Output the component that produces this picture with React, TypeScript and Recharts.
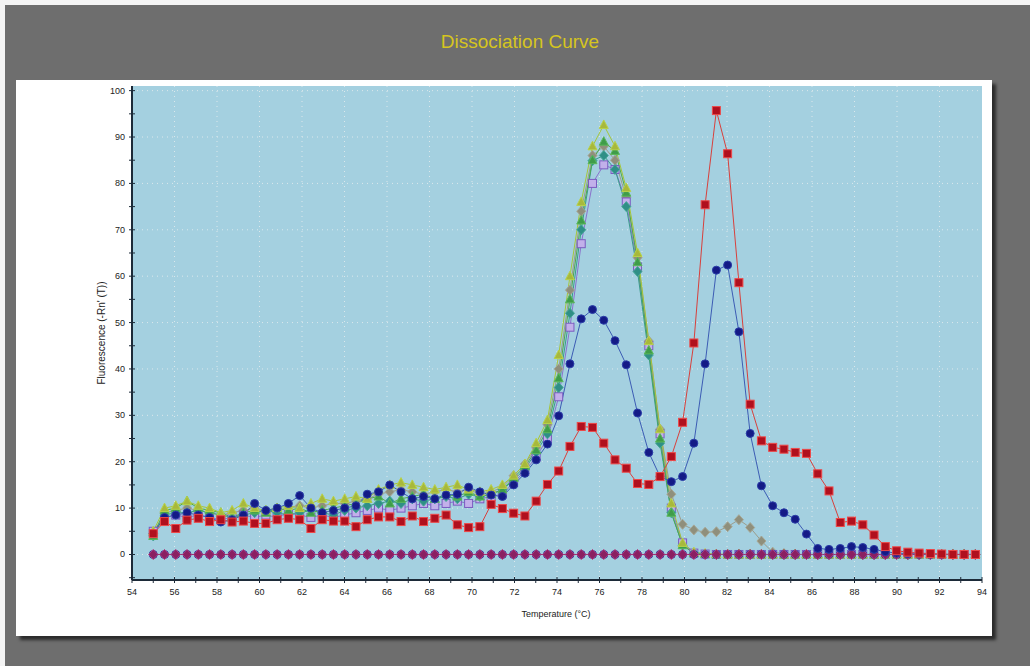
import { LineChart, Line, XAxis, YAxis, CartesianGrid } from "recharts"

// temperature of each reading (°C)
const temps = [
  55.0, 55.53, 56.06, 56.59, 57.12, 57.65, 58.18, 58.71, 59.24, 59.77,
  60.3, 60.83, 61.36, 61.89, 62.42, 62.95, 63.48, 64.01, 64.54, 65.07,
  65.6, 66.13, 66.66, 67.19, 67.72, 68.25, 68.78, 69.31, 69.84, 70.37,
  70.9, 71.43, 71.96, 72.49, 73.02, 73.55, 74.08, 74.61, 75.14, 75.67,
  76.2, 76.73, 77.26, 77.79, 78.32, 78.85, 79.38, 79.91, 80.44, 80.97,
  81.5, 82.03, 82.56, 83.09, 83.62, 84.15, 84.68, 85.21, 85.74, 86.27,
  86.8, 87.33, 87.86, 88.39, 88.92, 89.45, 89.98, 90.51, 91.04, 91.57,
  92.1, 92.63, 93.16, 93.69,
]

const redWell = [
  4.5, 7.1, 5.6, 7.4, 7.8, 7.1, 7.5, 7, 7.2, 6.7,
  6.7, 7.5, 7.8, 7.5, 5.6, 7.5, 7.2, 7.2, 6, 7.5,
  8.1, 8.1, 7.1, 8.3, 7.1, 7.8, 8.5, 6.4, 5.8, 6,
  10.8, 9.9, 8.9, 8.3, 11.5, 15.1, 18, 23.3, 27.6, 27.4,
  24, 20.4, 18.6, 15.3, 15.1, 16.8, 21.1, 28.5, 45.6, 75.4,
  95.7, 86.4, 58.6, 32.4, 24.5, 23.1, 22.7, 22, 21.8, 17.4,
  13.7, 6.9, 7.2, 6.4, 4.2, 1.7, 0.8, 0.5, 0.3, 0.2,
  0.1, 0, 0, 0,
]

const navyWell = [
  4.5, 8, 8.5, 9, 8.5, 8, 7, 7.5, 8.5, 11,
  9.5, 10, 11, 12.7, 10, 9, 9.5, 10, 10.5, 13,
  13.5, 15, 13.5, 12, 12.5, 12, 12.8, 13, 14.5, 13.5,
  12.8, 12.5, 15, 17.5, 20.4, 23.8, 29.9, 41.1, 50.8, 52.8,
  50.5, 46.1, 40.9, 30.5, 22, 16.8, 15.7, 16.8, 24, 41.1,
  61.3, 62.4, 48, 26.1, 14.8, 10.5, 9, 7.6, 4.4, 1.3,
  1.1, 1.3, 1.7, 1.5, 1.1, 0.6, 0.3, 0.2, 0.1, 0.1,
  0, 0, 0, 0,
]

const oliveWell = [
  5, 10, 10.5, 11.5, 10.5, 10, 9, 9.5, 11, 10,
  9.5, 10, 10.5, 10, 11, 12, 11.5, 12, 12.5, 12,
  14, 15, 15.5, 15, 14.5, 14, 14.5, 15, 14, 13.5,
  14, 15, 17, 19.5, 24, 29, 43, 60, 76, 88,
  92.6, 88, 79, 65, 46, 27, 11, 2.5, 0.5, 0.2,
  0.1, 0, 0, 0, 0, 0, 0, 0, 0, 0,
  0, 0, 0, 0, 0, 0, 0, 0, 0, 0,
  0, 0, 0, 0,
]

const greenWell = [
  4, 9.5, 10, 11.5, 10, 9.5, 9, 8, 9, 9.5,
  9, 10, 9.5, 10, 9, 9.5, 10, 10.5, 11, 12,
  12.5, 11, 12, 12.5, 13, 12, 13, 12.5, 13.5, 12.5,
  13, 14, 16.5, 19, 22.5, 27, 38, 55, 72, 85,
  89, 87, 78, 63, 44, 25, 9, 2, 0.3, 0.1,
  0, 0, 0, 0, 0, 0, 0, 0, 0, 0,
  0, 0, 0, 0, 0, 0, 0, 0, 0, 0,
  0, 0, 0, 0,
]

const tealWell = [
  4, 8.5, 9, 9, 9.5, 9, 8.5, 8, 8.5, 9,
  9.5, 9, 8.5, 9, 9.5, 9, 8.5, 9.5, 10, 10.5,
  11, 11.5, 11, 12, 11.5, 12, 12.5, 12, 13, 12.5,
  13, 14, 16, 18.5, 22, 26, 36, 52, 70, 84.9,
  86, 83, 75, 61, 43, 24, 9, 2, 0.3, 0.1,
  0, 0, 0, 0, 0, 0, 0, 0, 0, 0,
  0, 0, 0, 0, 0, 0, 0, 0, 0, 0,
  0, 0, 0, 0,
]

const purpleWell = [
  5, 8, 8.5, 8, 8.5, 8, 7.5, 8, 8.5, 8,
  8.5, 8, 9, 8.5, 8, 8.5, 8, 8.5, 9, 9.5,
  10, 9.5, 10, 10.5, 11, 10.5, 11, 11.5, 11, 12,
  12.5, 13, 15.5, 18, 21, 25, 34, 49, 67, 80,
  84, 83, 76, 62, 45, 26, 10, 2.5, 0.3, 0.1,
  0, 0, 0, 0, 0, 0, 0, 0, 0, 0,
  0, 0, 0, 0, 0, 0, 0, 0, 0, 0,
  0, 0, 0, 0,
]

const grayWell = [
  4.5, 9, 9.5, 10, 9.5, 9, 8.5, 9, 9.5, 10,
  9, 9.5, 10, 10.5, 10, 10.5, 11, 11, 11.5, 12,
  13, 13.5, 14, 13.5, 13, 13.5, 14, 13.5, 14, 13,
  13.5, 14.5, 17, 19.5, 23, 28, 40, 57, 74, 86,
  88, 85, 77, 64, 46, 27, 13, 6.5, 5.3, 4.8,
  4.9, 6, 7.5, 5.8, 2.9, 0.5, 0.2, 0, 0, 0,
  0, 0, 0, 0, 0, 0, 0, 0, 0, 0,
  0, 0, 0, 0,
]

// no-template controls, flat at zero
const ntcNavy = [
  0, 0, 0, 0, 0, 0, 0, 0, 0, 0,
  0, 0, 0, 0, 0, 0, 0, 0, 0, 0,
  0, 0, 0, 0, 0, 0, 0, 0, 0, 0,
  0, 0, 0, 0, 0, 0, 0, 0, 0, 0,
  0, 0, 0, 0, 0, 0, 0, 0, 0, 0,
  0, 0, 0, 0, 0, 0, 0, 0, 0, 0,
  0, 0, 0, 0, 0, 0, 0, 0, 0, 0,
  0, 0, 0, 0,
]

const ntcMagenta = [
  0, 0, 0, 0, 0, 0, 0, 0, 0, 0,
  0, 0, 0, 0, 0, 0, 0, 0, 0, 0,
  0, 0, 0, 0, 0, 0, 0, 0, 0, 0,
  0, 0, 0, 0, 0, 0, 0, 0, 0, 0,
  0, 0, 0, 0, 0, 0, 0, 0, 0, 0,
  0, 0, 0, 0, 0, 0, 0, 0, 0, 0,
  0, 0, 0, 0, 0, 0, 0, 0, 0, 0,
  0, 0, 0, 0,
]

const xTicks = [
  54, 55, 56, 57, 58, 59, 60, 61, 62, 63, 64, 65, 66, 67, 68, 69, 70, 71, 72, 73, 74,
  75, 76, 77, 78, 79, 80, 81, 82, 83, 84, 85, 86, 87, 88, 89, 90, 91, 92, 93, 94,
]
const yTicks = [-5, 0, 5, 10, 15, 20, 25, 30, 35, 40, 45, 50, 55, 60, 65, 70, 75, 80, 85, 90, 95, 100]
const xGrid = [56, 58, 60, 62, 64, 66, 68, 70, 72, 74, 76, 78, 80, 82, 84, 86, 88, 90, 92]
const yGrid = [0, 10, 20, 30, 40, 50, 60, 70, 80, 90, 100]

const data = temps.map((t, i) => ({
  t,
  gray: grayWell[i],
  purple: purpleWell[i],
  teal: tealWell[i],
  green: greenWell[i],
  olive: oliveWell[i],
  ntcNavy: ntcNavy[i],
  ntcMagenta: ntcMagenta[i],
  navy: navyWell[i],
  red: redWell[i],
}))

const series = [
  { key: "gray", line: "#9c9c8a", shape: "diamond", fill: "#8f8f7c", stroke: "#a6a694" },
  { key: "purple", line: "#8a72cc", shape: "square", fill: "#c2b0ea", stroke: "#7a5cc0" },
  { key: "teal", line: "#3a9a8a", shape: "diamond", fill: "#2f8f86", stroke: "#46a898" },
  { key: "green", line: "#4eaa4e", shape: "triangle", fill: "#3f9c4a", stroke: "#5ab85a" },
  { key: "olive", line: "#a6c63a", shape: "triangle", fill: "#a8b83c", stroke: "#b8d24a" },
  { key: "ntcNavy", line: "#2a2a80", shape: "circle", fill: "#232378", stroke: "#34349a" },
  { key: "ntcMagenta", line: "#a0306e", shape: "diamond", fill: "#8a2062", stroke: "#b03a80" },
  { key: "navy", line: "#3c5cb4", shape: "circle", fill: "#141a86", stroke: "#2a3ca8" },
  { key: "red", line: "#d8403c", shape: "square", fill: "#b0101e", stroke: "#ee4848" },
]

function marker(shape: string, fill: string, stroke: string, name: string) {
  return (props: any) => {
    const { cx, cy, index } = props
    const k = `${name}-${index}`
    if (cx == null || cy == null) return <g key={k} />
    if (shape === "square") {
      return <rect key={k} x={cx - 4} y={cy - 4} width={8} height={8} fill={fill} stroke={stroke} strokeWidth={1} />
    }
    if (shape === "circle") {
      return <circle key={k} cx={cx} cy={cy} r={4} fill={fill} stroke={stroke} strokeWidth={1} />
    }
    if (shape === "triangle") {
      const pts = `${cx},${cy - 5} ${cx + 4.5},${cy + 3.5} ${cx - 4.5},${cy + 3.5}`
      return <polygon key={k} points={pts} fill={fill} stroke={stroke} strokeWidth={1} />
    }
    const pts = `${cx},${cy - 5} ${cx + 4.5},${cy} ${cx},${cy + 5} ${cx - 4.5},${cy}`
    return <polygon key={k} points={pts} fill={fill} stroke={stroke} strokeWidth={1} />
  }
}

const YTick = (props: any) => {
  const { x, y, payload } = props
  const v = payload.value
  const major = v % 10 === 0
  return (
    <g>
      <line x1={x - 3} x2={x + 3} y1={y} y2={y} stroke="#1c2a38" strokeWidth={1} />
      {major && (
        <text x={x - 7} y={y + 3} textAnchor="end" fontSize={9} fill="#222" fontFamily="Arial, 'Liberation Sans', sans-serif">
          {v}
        </text>
      )}
    </g>
  )
}

const XTick = (props: any) => {
  const { x, y, payload } = props
  const v = payload.value
  const major = v % 2 === 0
  return (
    <g>
      <line x1={x} x2={x} y1={y - 3} y2={y + 3} stroke="#1c2a38" strokeWidth={1} />
      {major && (
        <text x={x} y={y + 15} textAnchor="middle" fontSize={9} fill="#222" fontFamily="Arial, 'Liberation Sans', sans-serif">
          {v}
        </text>
      )}
    </g>
  )
}

export default function App() {
  return (
    <div
      style={{
        position: "fixed",
        left: 0,
        top: 0,
        width: 1030,
        height: 666,
        background: "#f4f4f4",
        overflow: "hidden",
        fontFamily: "Arial, 'Liberation Sans', sans-serif",
      }}
    >
      <div style={{ position: "absolute", left: 5, top: 5, right: 0, bottom: 0, background: "#6e6e6e" }} />
      <div
        style={{
          position: "absolute",
          left: 0,
          top: 31,
          width: 1040,
          textAlign: "center",
          color: "#d6c51e",
          fontSize: 19,
        }}
      >
        Dissociation Curve
      </div>
      <div
        style={{
          position: "absolute",
          left: 16,
          top: 80,
          width: 976,
          height: 556,
          background: "#ffffff",
          boxShadow: "4px 4px 3px #2c2c2c",
        }}
      >
        <LineChart width={976} height={556} data={data} margin={{ top: 6, right: 10, bottom: 16, left: 0 }}>
          <CartesianGrid
            fill="#a4d0e0"
            fillOpacity={1}
            stroke="#dce8ec"
            strokeDasharray="1 4"
            horizontalValues={yGrid}
            verticalValues={xGrid}
          />
          <XAxis
            dataKey="t"
            type="number"
            domain={[54, 94]}
            ticks={xTicks}
            interval={0}
            height={40}
            tickSize={0}
            tickMargin={0}
            tickLine={false}
            tick={<XTick />}
            axisLine={{ stroke: "#1c2a38", strokeWidth: 2 }}
          />
          <YAxis
            type="number"
            domain={[-5.5, 101]}
            ticks={yTicks}
            interval={0}
            width={116}
            tickSize={0}
            tickMargin={0}
            tickLine={false}
            tick={<YTick />}
            axisLine={{ stroke: "#1c2a38", strokeWidth: 2 }}
          />
          {series.map((s) => (
            <Line
              key={s.key}
              dataKey={s.key}
              type="linear"
              stroke={s.line}
              strokeWidth={1}
              dot={marker(s.shape, s.fill, s.stroke, s.key)}
              activeDot={false}
              isAnimationActive={false}
            />
          ))}
        </LineChart>
        <div
          style={{
            position: "absolute",
            left: 85,
            top: 253,
            transform: "translate(-50%, -50%) rotate(-90deg)",
            whiteSpace: "nowrap",
            fontSize: 10,
            color: "#222",
          }}
        >
          Fluorescence (-Rn' (T))
        </div>
        <div
          style={{
            position: "absolute",
            left: 540,
            top: 534,
            transform: "translate(-50%, -50%)",
            whiteSpace: "nowrap",
            fontSize: 9,
            color: "#222",
          }}
        >
          Temperature (°C)
        </div>
      </div>
    </div>
  )
}
